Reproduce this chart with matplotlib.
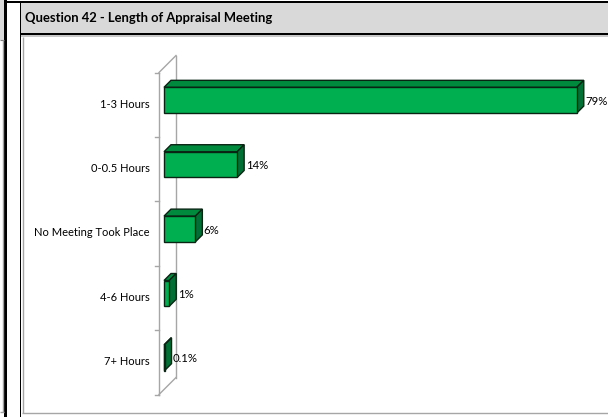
import matplotlib
matplotlib.use("Agg")
import matplotlib.pyplot as plt
import matplotlib.transforms as mtransforms
from matplotlib.patches import Polygon, Rectangle
from matplotlib.lines import Line2D

TITLE = "Question 42 - Length of Appraisal Meeting"
CATEGORIES = ["1-3 Hours", "0-0.5 Hours", "No Meeting Took Place", "4-6 Hours", "7+ Hours"]
VALUES = [79, 14, 6, 1, 0.1]
VALUE_LABELS = ["79%", "14%", "6%", "1%", "0.1%"]

W, H, DPI = 608, 417, 100
FRONT = "#00b050"
TOP = "#008a3e"
SIDE = "#007034"
EDGE = "#0a2414"
WALL = "#a6a6a6"
HEADER = "#d9d9d9"

FONT = ["Lato", "DejaVu Sans"]


def fx(px):
    return px / W


def fy(py):
    return 1 - py / H


def fig_rect(fig, l, t, r, b, color):
    fig.patches.append(Rectangle((fx(l), fy(b)), fx(r) - fx(l), fy(t) - fy(b),
                                 transform=fig.transFigure, facecolor=color,
                                 edgecolor="none", zorder=0))


def fig_line(fig, x0, y0, x1, y1, color, lw):
    fig.lines.append(Line2D([fx(x0), fx(x1)], [fy(y0), fy(y1)], transform=fig.transFigure,
                            color=color, linewidth=lw, solid_capstyle="butt"))


def shift(fig, dx_px, dy_px):
    # pixel offset (y up positive)
    return mtransforms.ScaledTranslation(dx_px / DPI, dy_px / DPI, fig.dpi_scale_trans)


def main():
    fig = plt.figure(figsize=(W / DPI, H / DPI), dpi=DPI)
    fig.patch.set_facecolor("white")

    # table frame
    fig_rect(fig, 0, 0, 4, 40, HEADER)
    fig_line(fig, 0, 40, 4, 40, "#808080", 0.8)
    fig_line(fig, 2.5, 40, 2.5, 412, "#a0a0a0", 1.0)
    fig_line(fig, 0, 412, 4, 412, "#a0a0a0", 1.0)
    fig_rect(fig, 4, 0, 7, H, "black")
    fig_rect(fig, 4, 1, W, 3, "black")
    fig_rect(fig, 19.5, 1, 21, H, "black")
    fig_rect(fig, 21, 3, W, 33, HEADER)
    fig_rect(fig, 21, 33, W, 35, "black")
    fig_rect(fig, 21, 35, W, 37, "#c8c8c8")
    fig_line(fig, 22.5, 37, 22.5, 413, WALL, 1.0)
    fig_line(fig, 22, 413, W, 413, WALL, 1.0)

    fig.text(fx(25), fy(18.5), TITLE, fontsize=9.4, fontweight="bold",
             family=FONT, ha="left", va="center", color="black")

    ax = fig.add_axes([fx(164), fy(390), fx(582) - fx(164), fy(68) - fy(390)])
    ax.set_xlim(0, 80)
    ax.set_ylim(len(CATEGORIES) - 0.5, -0.5)
    ax.axis("off")

    # walls
    ya = ax.transAxes
    front_t = ya + shift(fig, -5, -4.5)
    back_t = ya + shift(fig, 12, 12.5)
    ax.plot([0, 0], [0, 1], color=WALL, lw=1.0, transform=front_t, clip_on=False)
    ax.plot([0, 0], [0, 1], color=WALL, lw=1.0, transform=back_t, clip_on=False)
    for yy in (0, 1):
        p0 = front_t.transform((0, yy))
        p1 = back_t.transform((0, yy))
        ax.add_line(Line2D([p0[0], p1[0]], [p0[1], p1[1]], color=WALL, lw=1.0,
                           transform=mtransforms.IdentityTransform(), clip_on=False))
    ymix = ax.get_yaxis_transform()
    tick_t = ymix + shift(fig, -5, -4.5)
    for k in range(len(CATEGORIES) + 1):
        b = k - 0.5
        p = tick_t.transform((0, b))
        ax.add_line(Line2D([p[0] - 4, p[0]], [p[1], p[1]], color=WALL, lw=1.0,
                           transform=mtransforms.IdentityTransform(), clip_on=False))

    # category labels
    lab_t = ymix + shift(fig, -14, -4)
    for i, name in enumerate(CATEGORIES):
        ax.text(0, i, name, transform=lab_t, ha="right", va="center",
                fontsize=8.0, family=FONT, color="black")

    # 3d bars
    bh = 0.40
    dx, dy = 7, 7
    ident = mtransforms.IdentityTransform()
    fig.canvas.draw()
    for i, v in enumerate(VALUES):
        y0, y1 = i - bh / 2, i + bh / 2
        fr = ax.transData.transform((v, y1))
        tl = ax.transData.transform((0, y0))
        tr = ax.transData.transform((v, y0))
        top = [tl, tr, (tr[0] + dx, tr[1] + dy), (tl[0] + dx, tl[1] + dy)]
        side = [tr, fr, (fr[0] + dx, fr[1] + dy), (tr[0] + dx, tr[1] + dy)]
        ax.add_patch(Polygon(top, closed=True, facecolor=TOP, edgecolor=EDGE,
                             lw=1.0, transform=ident, clip_on=False, zorder=2))
        ax.add_patch(Polygon(side, closed=True, facecolor=SIDE, edgecolor=EDGE,
                             lw=1.0, transform=ident, clip_on=False, zorder=2))
        ax.barh(i, v, height=bh, left=0, color=FRONT, edgecolor=EDGE, lw=1.0,
                zorder=3, clip_on=False)
        ax.text(v, i, VALUE_LABELS[i], transform=ax.transData + shift(fig, dx + 1.5, -1),
                ha="left", va="center", fontsize=8.2, family=FONT, color="black",
                clip_on=False)

    fig.savefig("out.png", dpi=DPI, facecolor="white")
    plt.close(fig)


if __name__ == "__main__":
    main()
